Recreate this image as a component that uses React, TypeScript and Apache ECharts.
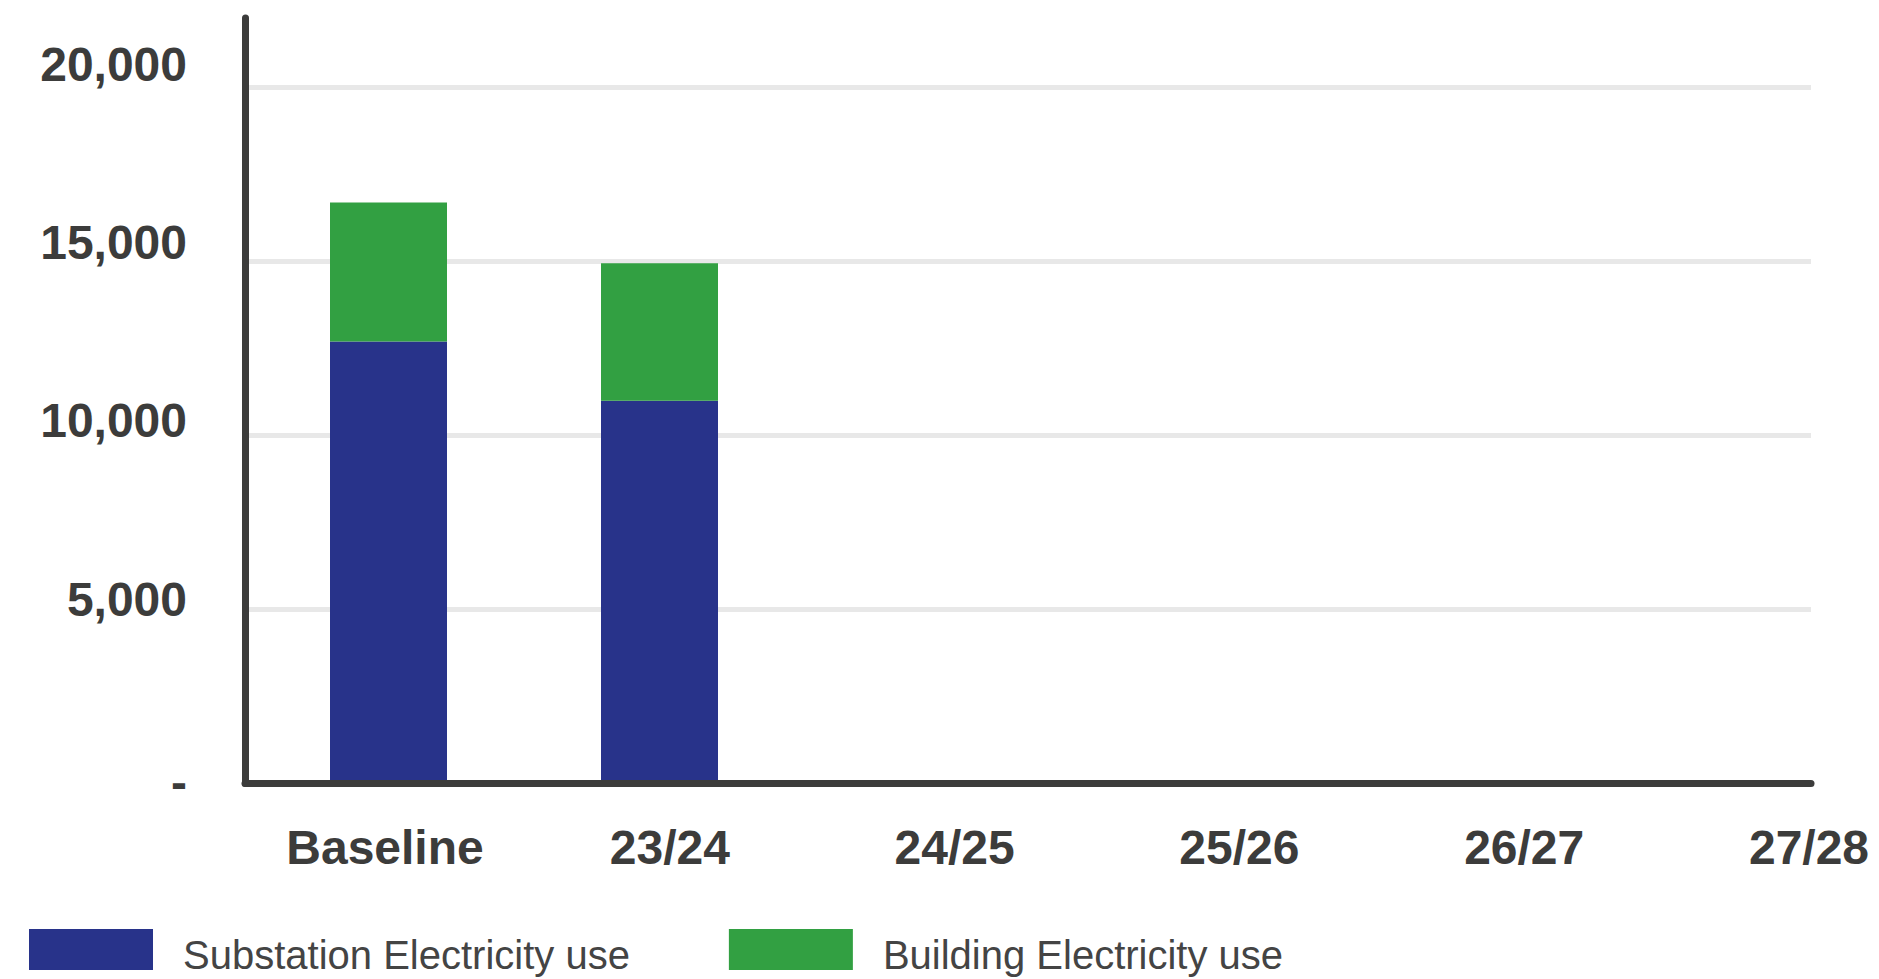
import { useEffect, useRef } from 'react';
import * as echarts from 'echarts';

// Electricity use by year (kWh-scale units), stacked: substation + building
const categories = ['Baseline', '23/24', '24/25', '25/26', '26/27', '27/28'];
const substationUse: (number | null)[] = [12700, 11000, null, null, null, null];
const buildingUse: (number | null)[] = [4000, 3950, null, null, null, null];
const seriesNames = ['Substation Electricity use', 'Building Electricity use'];
const yTicks = [0, 5000, 10000, 15000, 20000];
const zeroTickLabel = '-';

const INK = '#3c3c3b';
const FONT = '"Liberation Sans", Arial, Helvetica, sans-serif';
const BLUE = '#28338a';
const GREEN = '#32a042';
const GRID_LINE = '#e8e8e8';

// how far each y tick label sits above its grid line, in px
const labelLift: Record<number, number> = { 0: 1, 5000: 10, 10000: 15, 15000: 19, 20000: 23 };

const PLOT_TOP = 18;
const PLOT_HEIGHT = 765.5;
const Y_MAX = 22000;

export default function App() {
  const ref = useRef<HTMLDivElement>(null);

  useEffect(() => {
    if (!ref.current) return;
    const chart = echarts.init(ref.current, undefined, { renderer: 'svg' });

    const rich: Record<string, any> = {};
    yTicks.forEach((t) => {
      rich['l' + t] = {
        fontSize: 48,
        fontWeight: 'bold',
        fontFamily: FONT,
        color: INK,
        padding: [0, 0, 2 * (labelLift[t] ?? 0), 0],
      };
    });

    chart.setOption({
      animation: false,
      backgroundColor: '#ffffff',
      grid: [
        // frame: axis lines, y labels and grid lines
        { left: 245, top: PLOT_TOP, width: 1566, height: PLOT_HEIGHT },
        // bars
        { left: 253, top: PLOT_TOP, width: 1644, height: PLOT_HEIGHT },
        // category labels
        { left: 385, top: PLOT_TOP, width: 1424, height: PLOT_HEIGHT },
      ],
      legend: {
        data: seriesNames,
        left: 29,
        top: 929,
        icon: 'rect',
        itemWidth: 124,
        itemHeight: 41,
        itemGap: 99,
        padding: 0,
        selectedMode: false,
        formatter: (name: string) => `{t|${name}}`,
        textStyle: {
          fontSize: 40,
          fontFamily: FONT,
          color: '#444444',
          rich: {
            t: {
              fontSize: 40,
              fontFamily: FONT,
              color: '#444444',
              padding: [10, 0, 0, 25],
            },
          },
        },
      },
      xAxis: [
        {
          gridIndex: 0,
          type: 'category',
          data: categories,
          z: 5,
          axisLine: { show: true, lineStyle: { color: INK, width: 7 } },
          axisTick: { show: false },
          axisLabel: { show: false },
          splitLine: { show: false },
        },
        { gridIndex: 1, type: 'category', data: categories, show: false },
        {
          gridIndex: 2,
          type: 'category',
          data: categories,
          boundaryGap: false,
          axisLine: { show: false },
          axisTick: { show: false },
          splitLine: { show: false },
          axisLabel: {
            interval: 0,
            margin: 40,
            fontSize: 48,
            fontWeight: 'bold',
            fontFamily: FONT,
            color: INK,
          },
        },
      ],
      yAxis: [
        {
          gridIndex: 0,
          type: 'value',
          min: 0,
          max: Y_MAX,
          interval: 5000,
          axisLine: { show: true, lineStyle: { color: INK, width: 7 } },
          axisTick: { show: false },
          axisLabel: {
            margin: 58,
            showMaxLabel: false,
            formatter: (v: number) => {
              const text = v === 0 ? zeroTickLabel : v.toLocaleString('en-US');
              return `{l${v}|${text}}`;
            },
            rich,
          },
          splitLine: {
            show: true,
            showMaxLine: false,
            lineStyle: { color: GRID_LINE, width: 5 },
          },
        },
        { gridIndex: 1, type: 'value', min: 0, max: Y_MAX, show: false, splitLine: { show: false } },
        { gridIndex: 2, type: 'value', min: 0, max: Y_MAX, show: false, splitLine: { show: false } },
      ],
      series: [
        {
          name: seriesNames[0],
          type: 'bar',
          stack: 'use',
          xAxisIndex: 1,
          yAxisIndex: 1,
          barWidth: 117,
          data: substationUse,
          itemStyle: { color: BLUE },
        },
        {
          name: seriesNames[1],
          type: 'bar',
          stack: 'use',
          xAxisIndex: 1,
          yAxisIndex: 1,
          barWidth: 117,
          data: buildingUse,
          itemStyle: { color: GREEN },
        },
      ],
    });

    return () => chart.dispose();
  }, []);

  return (
    <div
      ref={ref}
      style={{ position: 'fixed', left: 0, top: 0, width: 1879, height: 979, background: '#fff' }}
    />
  );
}
